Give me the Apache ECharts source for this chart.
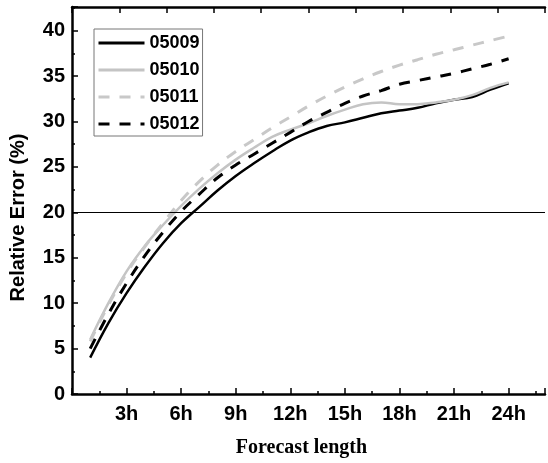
<!DOCTYPE html>
<html>
<head>
<meta charset="utf-8">
<script src="https://cdn.jsdelivr.net/npm/echarts@6/dist/echarts.min.js"></script>
<style>
  html, body { margin: 0; padding: 0; background: #fff; }
  #main { width: 548px; height: 463px; }
</style>
</head>
<body>
<div id="main"></div>
<script>
var hours = [1, 2, 3, 4, 5, 6, 7, 8, 9, 10, 11, 12, 13, 14, 15, 16, 17, 18, 19, 20, 21, 22, 23, 24];
var s05009 = [4.0, 7.8, 11.1, 14.0, 16.6, 18.8, 20.6, 22.4, 24.0, 25.4, 26.7, 27.9, 28.8, 29.5, 29.9, 30.4, 30.9, 31.2, 31.5, 32.0, 32.4, 32.7, 33.5, 34.2];
var s05010 = [6.0, 10.0, 13.5, 16.3, 18.6, 20.7, 22.6, 24.3, 25.8, 27.1, 28.3, 29.1, 29.8, 30.6, 31.3, 31.9, 32.1, 31.9, 31.9, 32.1, 32.4, 32.9, 33.7, 34.3];
var s05011 = [5.8, 9.8, 13.3, 16.2, 18.8, 21.3, 23.4, 25.2, 26.7, 28.0, 29.3, 30.5, 31.7, 32.8, 33.8, 34.7, 35.5, 36.2, 36.8, 37.4, 37.9, 38.4, 38.9, 39.4];
var s05012 = [5.0, 8.8, 12.2, 15.2, 17.8, 20.1, 22.0, 23.8, 25.2, 26.4, 27.6, 28.8, 30.0, 31.0, 32.0, 32.8, 33.4, 34.1, 34.5, 34.9, 35.3, 35.8, 36.3, 36.9];
var refLine = 20;

function pairs(ys) {
  return hours.map(function (h, i) { return [h, ys[i]]; });
}

var myChart = echarts.init(document.getElementById('main'));
var axisLine = { show: true, lineStyle: { color: '#000', width: 2.5 } };
var labelFont = { color: '#000', fontFamily: 'Liberation Sans, Arial', fontWeight: 'bold', fontSize: 20 };
var tick = { inside: true, length: 6, lineStyle: { width: 1.5, color: '#000' } };
var minor = { show: true, splitNumber: 2, length: 3, lineStyle: { width: 1.5, color: '#000' } };

myChart.setOption({
  animation: false,
  backgroundColor: '#fff',
  grid: { left: 69, right: -2, top: 7, bottom: 66 },
  legend: {
    orient: 'vertical',
    left: 94,
    top: 29,
    itemWidth: 46,
    itemHeight: 14,
    itemGap: 9,
    padding: [5, 3, 3, 3],
    borderColor: '#777',
    borderWidth: 1,
    itemStyle: { opacity: 0 },
    lineStyle: { width: 3 },
    textStyle: { color: '#000', fontFamily: 'Liberation Sans, Arial', fontWeight: 'bold', fontSize: 18 },
    data: ['05009', '05010', '05011', '05012']
  },
  xAxis: [{
    type: 'value',
    min: 0,
    max: 26,
    interval: 3,
    axisLine: axisLine,
    axisTick: tick,
    minorTick: minor,
    splitLine: { show: false },
    axisLabel: Object.assign({ margin: 10, formatter: function (v) {
      return (v > 0 && v % 3 === 0) ? v + 'h' : '';
    } }, labelFont),
    name: 'Forecast length',
    nameLocation: 'middle',
    nameGap: 44,
    nameTextStyle: { color: '#000', fontFamily: 'Liberation Serif, Times New Roman', fontWeight: 'bold', fontSize: 20, padding: [0, 0, 0, -14] }
  }, {
    type: 'value',
    position: 'top',
    min: 0,
    max: 10,
    interval: 1,
    axisLine: axisLine,
    axisTick: tick,
    axisLabel: { show: false },
    splitLine: { show: false }
  }],
  yAxis: {
    type: 'value',
    min: 0,
    max: 42.6,
    interval: 5,
    axisLine: axisLine,
    axisTick: tick,
    minorTick: minor,
    splitLine: { show: false },
    axisLabel: Object.assign({ margin: 7, formatter: function (v) {
      return v % 5 === 0 ? String(v) : '';
    } }, labelFont),
    name: 'Relative Error (%)',
    nameLocation: 'middle',
    nameGap: 44,
    nameTextStyle: { color: '#000', fontFamily: 'Liberation Sans, Arial', fontWeight: 'bold', fontSize: 20, padding: [0, 0, 0, -34] }
  },
  series: [{
    name: '05009',
    type: 'line',
    smooth: 0.4,
    symbol: 'none',
    data: pairs(s05009),
    lineStyle: { color: '#000', width: 2.5 },
    itemStyle: { color: '#000' },
    markLine: {
      silent: true,
      symbol: 'none',
      label: { show: false },
      lineStyle: { color: '#000', width: 1, type: 'solid' },
      data: [{ yAxis: refLine }]
    }
  }, {
    name: '05010',
    type: 'line',
    smooth: 0.4,
    symbol: 'none',
    data: pairs(s05010),
    lineStyle: { color: '#c4c4c4', width: 2.5 },
    itemStyle: { color: '#c4c4c4' }
  }, {
    name: '05011',
    type: 'line',
    smooth: 0.4,
    symbol: 'none',
    data: pairs(s05011),
    lineStyle: { color: '#c8c8c8', width: 3, type: [11, 10] },
    itemStyle: { color: '#c8c8c8' }
  }, {
    name: '05012',
    type: 'line',
    smooth: 0.4,
    symbol: 'none',
    data: pairs(s05012),
    lineStyle: { color: '#000', width: 3, type: [11, 10] },
    itemStyle: { color: '#000' }
  }]
});
</script>
</body>
</html>
